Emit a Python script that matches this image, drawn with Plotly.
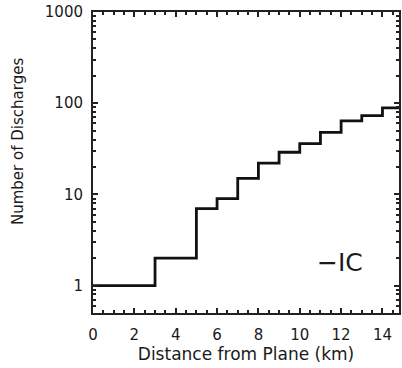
import plotly.graph_objects as go

# Bin edges (km) and counts per 1-km bin
bin_edges = [0, 1, 2, 3, 4, 5, 6, 7, 8, 9, 10, 11, 12, 13, 14, 15]
counts = [1, 1, 1, 2, 2, 7, 9, 15, 22, 29, 36, 48, 64, 73, 89]
x_ticks = [0, 2, 4, 6, 8, 10, 12, 14]
y_ticks = [1, 10, 100, 1000]
y_ticklabels = ["1", "10", "100", "1000"]
y_minor = [0.6, 0.7, 0.8, 0.9] + [m * d for d in (1, 10, 100) for m in range(2, 10)]
label_text = "\u2212IC"

step_y = counts + [counts[-1]]

fig = go.Figure()
fig.add_trace(go.Scatter(
    x=bin_edges, y=step_y, mode="lines", line_shape="hv",
    line=dict(color="#111111", width=2.8), showlegend=False, hoverinfo="skip"))

font = dict(family="DejaVu Sans", size=15, color="#1a1a1a")

fig.update_layout(
    width=402, height=368,
    margin=dict(l=93, r=3, t=12, b=55),
    paper_bgcolor="white", plot_bgcolor="white",
    font=font,
    annotations=[
        dict(x=13.15, y=0.25, xref="x", yref="y", text=label_text,
             showarrow=False, font=dict(family="DejaVu Sans", size=25, color="#1a1a1a"),
             xanchor="right", yanchor="middle"),
        dict(x=(18 - 93) / 306, y=(313 - 142) / 301, xref="paper", yref="paper",
             text="Number of Discharges", showarrow=False, textangle=-90,
             xanchor="center", yanchor="middle",
             font=dict(family="DejaVu Sans", size=15, color="#1a1a1a")),
    ],
)
fig.update_xaxes(
    range=[0, 14.8], tickvals=x_ticks, ticks="inside", ticklen=5, tickwidth=1.5,
    tickcolor="#222", showline=True, linecolor="#222", linewidth=2, mirror="ticks",
    showgrid=False, zeroline=False, automargin=False, ticklabeloverflow="allow",
    ticklabelstandoff=7,
    minor=dict(dtick=0.5, ticks="inside", ticklen=3, tickcolor="#222", showgrid=False),
    title=dict(text="Distance from Plane (km)",
               font=dict(family="DejaVu Sans", size=17, color="#1a1a1a"), standoff=0),
    tickfont=font,
)
fig.update_yaxes(
    type="log", range=[-0.3, 3], tickvals=y_ticks, ticktext=y_ticklabels,
    ticks="inside", ticklen=5, tickwidth=1.5, tickcolor="#222",
    showline=True, linecolor="#222", linewidth=2, mirror="ticks",
    showgrid=False, zeroline=False, automargin=False, ticklabelstandoff=5,
    ticklabeloverflow="allow",
    minor=dict(tickvals=y_minor, ticks="inside", ticklen=3, tickcolor="#222", showgrid=False),
    tickfont=font,
)
fig.write_html("out.html", config={"displayModeBar": False},
               post_script="document.body.style.margin='0px';")
